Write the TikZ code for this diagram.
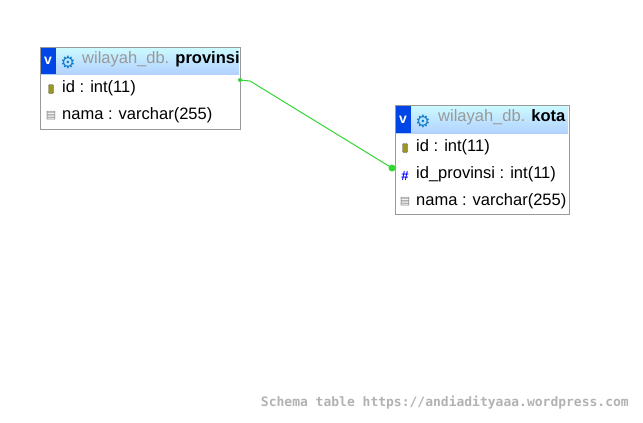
\documentclass[tikz,border=0pt]{standalone}
\usepackage{fontspec}
\setmainfont{Liberation Sans}
\newfontfamily\dvs{DejaVu Sans}
\newfontfamily\wmfont{DejaVu Sans Mono}
\begin{document}
\begin{tikzpicture}[x=1pt,y=-1pt,
  tbox/.style={draw=black!40,fill=white,line width=0.8pt},
  hdr/.style={top color=blue!10!cyan!20,bottom color=cyan!40!blue!30,draw=none},
  vbox/.style={fill=blue!70!cyan!90!black,draw=none,text=white,font=\bfseries\fontsize{14}{14}\selectfont,inner sep=0pt},
  row/.style={anchor=west,font=\fontsize{16.5}{16.5}\selectfont,inner sep=0pt},
  ttl/.style={anchor=west,font=\fontsize{16.5}{16.5}\selectfont,inner sep=0pt},
  gear/.style={text=cyan!60!blue,font=\dvs\fontsize{17}{17}\selectfont,inner sep=0pt},
  keyic/.style={fill=olive!60!yellow!80!black,draw=black!60,line width=0.4pt,minimum width=5pt,minimum height=9pt,inner sep=0pt,rounded corners=1pt},
  docic/.style={text=black!50,font=\dvs\fontsize{11}{11}\selectfont,inner sep=0pt},
  hashic/.style={text=blue,font=\bfseries\fontsize{13}{13}\selectfont,inner sep=0pt},
  rel/.style={draw=green!80!black!80,line width=1pt}]
\useasboundingbox (0,0) rectangle (643,423);
% provinsi
\draw[tbox] (40,47) rectangle (240,129);
\fill[hdr] (41,48) rectangle (239,74);
\node[vbox,minimum width=15pt,minimum height=26pt] (pv) at (48,61) {v};
\node[gear] (pg) at (68,62) {⚙};
\node[ttl] (pt) at (82,59) {\textcolor{black!40}{wilayah\_db.} \textbf{provinsi}};
\node[keyic] (pk1) at (51,89) {};
\node[row] (p1) at (62,88) {id : int(11)};
\node[docic] (pd2) at (51,116) {▤};
\node[row] (p2) at (62,115) {nama : varchar(255)};
% kota
\draw[tbox] (395,105) rectangle (569,214);
\fill[hdr] (396,106) rectangle (568,133);
\node[vbox,minimum width=15pt,minimum height=27pt] (kv) at (403,119.5) {v};
\node[gear] (kg) at (423,121) {⚙};
\node[ttl] (kt) at (438,117) {\textcolor{black!40}{wilayah\_db.} \textbf{kota}};
\node[keyic] (kk1) at (405,148) {};
\node[row] (k1) at (416,147) {id : int(11)};
\node[hashic] (kh2) at (405,176) {\#};
\node[row] (k2) at (416,174) {id\_provinsi : int(11)};
\node[docic] (kd3) at (405,202) {▤};
\node[row] (k3) at (416,201) {nama : varchar(255)};
% relation
\coordinate (a) at (240,80);
\coordinate (b) at (392,168);
\draw[rel] (a) -- (250,81) -- (b);
\fill[green!80!black!80] (a) circle (2pt);
\fill[green!80!black!80] (b) circle (3.5pt);
% watermark
\node[anchor=east,text=black!30,font=\wmfont\bfseries\fontsize{13}{13}\selectfont,inner sep=0pt] (wm) at (629,403) {Schema table https://andiadityaaa.wordpress.com};
\end{tikzpicture}
\end{document}
